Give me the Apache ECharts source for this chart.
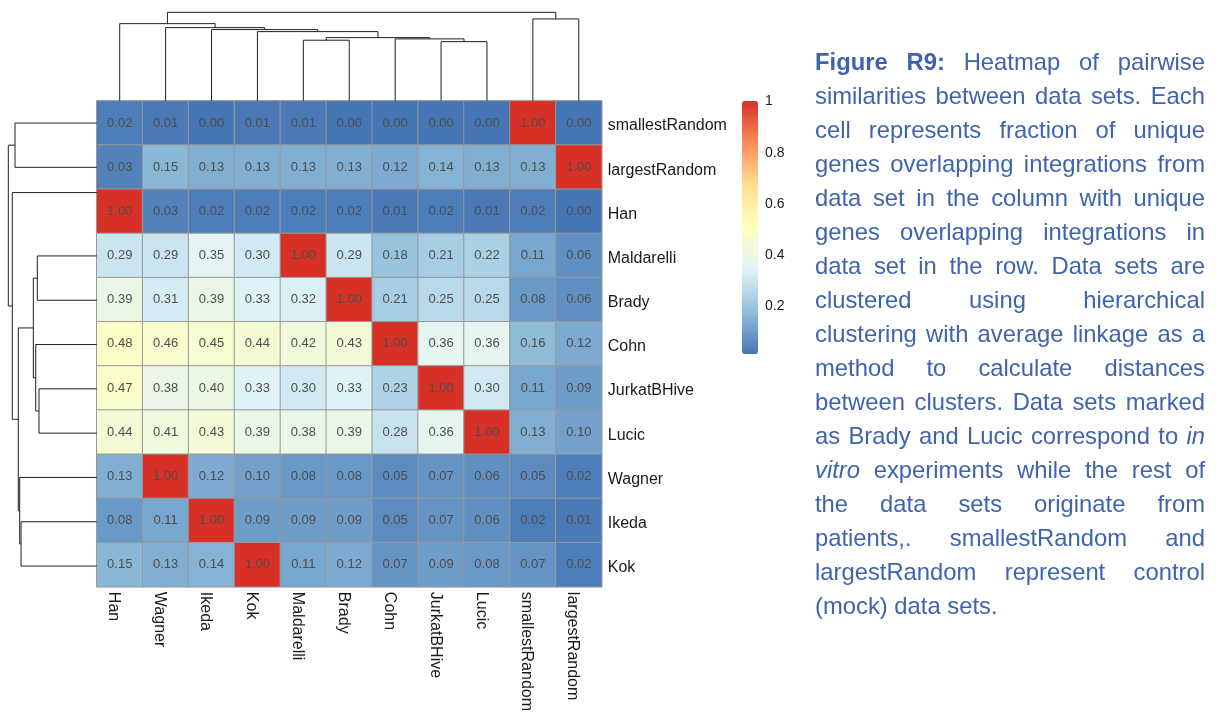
<!DOCTYPE html>
<html>
<head>
<meta charset="utf-8">
<title>Pairwise similarities between data sets</title>
<script src="https://cdn.jsdelivr.net/npm/echarts@6.0.0/dist/echarts.min.js"></script>
<style>
  html, body { margin: 0; padding: 0; background: #ffffff; }
  #chart { position: absolute; left: 0; top: 0; width: 1218px; height: 714px; }
  #caption {
    position: absolute; left: 815px; top: 45px; width: 390px;
    font-family: "Liberation Sans", Arial, sans-serif;
    font-size: 23.8px; line-height: 34px; color: #3f63ad;
  }
  #caption .ln { text-align: justify; text-align-last: justify; }
  #caption .ln.last { text-align: left; text-align-last: left; }
</style>
</head>
<body>
<div id="chart"></div>
<div id="caption"></div>
<script>
// Data sets in column order (left to right) and row order (top to bottom)
const colNames = ['Han', 'Wagner', 'Ikeda', 'Kok', 'Maldarelli', 'Brady', 'Cohn', 'JurkatBHive', 'Lucic', 'smallestRandom', 'largestRandom'];
const rowNames = ['smallestRandom', 'largestRandom', 'Han', 'Maldarelli', 'Brady', 'Cohn', 'JurkatBHive', 'Lucic', 'Wagner', 'Ikeda', 'Kok'];

// Fraction of overlapping unique genes, one array per row
const simSmallestRandom = [0.02, 0.01, 0.00, 0.01, 0.01, 0.00, 0.00, 0.00, 0.00, 1.00, 0.00];
const simLargestRandom  = [0.03, 0.15, 0.13, 0.13, 0.13, 0.13, 0.12, 0.14, 0.13, 0.13, 1.00];
const simHan            = [1.00, 0.03, 0.02, 0.02, 0.02, 0.02, 0.01, 0.02, 0.01, 0.02, 0.00];
const simMaldarelli     = [0.29, 0.29, 0.35, 0.30, 1.00, 0.29, 0.18, 0.21, 0.22, 0.11, 0.06];
const simBrady          = [0.39, 0.31, 0.39, 0.33, 0.32, 1.00, 0.21, 0.25, 0.25, 0.08, 0.06];
const simCohn           = [0.48, 0.46, 0.45, 0.44, 0.42, 0.43, 1.00, 0.36, 0.36, 0.16, 0.12];
const simJurkatBHive    = [0.47, 0.38, 0.40, 0.33, 0.30, 0.33, 0.23, 1.00, 0.30, 0.11, 0.09];
const simLucic          = [0.44, 0.41, 0.43, 0.39, 0.38, 0.39, 0.28, 0.36, 1.00, 0.13, 0.10];
const simWagner         = [0.13, 1.00, 0.12, 0.10, 0.08, 0.08, 0.05, 0.07, 0.06, 0.05, 0.02];
const simIkeda          = [0.08, 0.11, 1.00, 0.09, 0.09, 0.09, 0.05, 0.07, 0.06, 0.02, 0.01];
const simKok            = [0.15, 0.13, 0.14, 1.00, 0.11, 0.12, 0.07, 0.09, 0.08, 0.07, 0.02];
const simRows = [simSmallestRandom, simLargestRandom, simHan, simMaldarelli, simBrady, simCohn,
                 simJurkatBHive, simLucic, simWagner, simIkeda, simKok];

// Column clustering (hclust-style merge list: negative = leaf, positive = earlier merge step)
const colMerge  = [[-8, -9], [-5, -6], [-7, 1], [2, 3], [-4, 4], [-3, 5], [-2, 6], [-1, 7], [-10, -11], [8, 9]];
const colHeight = [0.669, 0.685, 0.700, 0.714, 0.782, 0.805, 0.827, 0.872, 0.925, 1.000];
const colLeafPos = [0, 1, 2, 3, 4, 5, 6, 7, 8, 9, 10];

// Row clustering
const rowMerge  = [[-7, -8], [-4, -5], [-6, 1], [2, 3], [-10, -11], [-9, 5], [4, 6], [-1, -2], [-3, 7], [8, 9]];
const rowHeight = [0.653, 0.672, 0.690, 0.717, 0.856, 0.871, 0.887, 0.924, 0.955, 1.000];
const rowLeafPos = [0, 1, 1.57, 3, 4, 5, 6, 7, 8, 9, 10];

// Colour scale ticks
const legendTicks = [0.2, 0.4, 0.6, 0.8, 1];

// Caption lines
const captionLines = [
  '<b>Figure R9:</b> Heatmap of pairwise',
  'similarities between data sets. Each',
  'cell represents fraction of unique',
  'genes overlapping integrations from',
  'data set in the column with unique',
  'genes overlapping integrations in',
  'data set in the row. Data sets are',
  'clustered using hierarchical',
  'clustering with average linkage as a',
  'method to calculate distances',
  'between clusters. Data sets marked',
  'as Brady and Lucic correspond to <i>in</i>',
  '<i>vitro</i> experiments while the rest of',
  'the data sets originate from',
  'patients,. smallestRandom and',
  'largestRandom represent control',
  '(mock) data sets.'
];

const cap = document.getElementById('caption');
captionLines.forEach((t, i) => {
  const d = document.createElement('div');
  d.className = 'ln' + (i === captionLines.length - 1 ? ' last' : '');
  d.innerHTML = t;
  cap.appendChild(d);
});

// RdYlBu (reversed) palette
const palette = ['#4575B4', '#91BFDB', '#E0F3F8', '#FFFFBF', '#FEE090', '#FC8D59', '#D73027'];

const heatData = [];
simRows.forEach((row, r) => row.forEach((v, c) => heatData.push([c, r, v])));

// Turn a merge list into link segments [posA, hA, posB, hB, h]
function buildLinks(merge, height, leafPos) {
  const pos = [], hh = [], out = [];
  merge.forEach((m, k) => {
    const get = c => c < 0 ? [leafPos[-c - 1], 0] : [pos[c - 1], hh[c - 1]];
    const a = get(m[0]), b = get(m[1]);
    pos[k] = (a[0] + b[0]) / 2;
    hh[k] = height[k];
    out.push([a[0], a[1], b[0], b[1], height[k]]);
  });
  return out;
}
const colLinks = buildLinks(colMerge, colHeight, colLeafPos);
const rowLinks = buildLinks(rowMerge, rowHeight, rowLeafPos);

const treeStyle = { stroke: '#1f1f1f', lineWidth: 1, fill: null };

const GL = 96.75, GT = 100.9, GW = 505, GH = 487.3;

const chart = echarts.init(document.getElementById('chart'), null, { renderer: 'canvas' });
chart.setOption({
  animation: false,
  textStyle: { fontFamily: '"Liberation Sans", Arial, sans-serif' },
  grid: [
    { left: GL, top: GT, width: GW, height: GH },          // heatmap
    { left: GL, top: 12.3, width: GW, height: GT - 12.3 },  // column tree
    { left: 8.3, top: GT, width: GL - 8.3, height: GH },    // row tree
    { left: 742, top: 101.6, width: 16, height: 255.4 }     // colour scale labels
  ],
  xAxis: [
    {
      type: 'category', data: colNames, gridIndex: 0, position: 'bottom',
      axisLine: { show: false }, axisTick: { show: false }, splitLine: { show: false },
      axisLabel: {
        rotate: -90, interval: 0, fontSize: 16, color: '#1a1a1a', margin: 5,
        align: 'left', verticalAlign: 'top', lineHeight: 12
      }
    },
    { type: 'value', gridIndex: 1, min: -0.5, max: 10.5, show: false },
    { type: 'value', gridIndex: 2, min: 0, max: 1, inverse: true, show: false },
    { type: 'value', gridIndex: 3, min: 0, max: 1, show: false }
  ],
  yAxis: [
    {
      type: 'category', data: rowNames, gridIndex: 0, inverse: true, position: 'right',
      axisLine: { show: false }, axisTick: { show: false }, splitLine: { show: false },
      axisLabel: {
        interval: 0, fontSize: 16, color: '#1a1a1a', margin: 6,
        verticalAlign: 'top', lineHeight: 6
      }
    },
    { type: 'value', gridIndex: 1, min: 0, max: 1, show: false },
    { type: 'value', gridIndex: 2, min: -0.5, max: 10.5, inverse: true, show: false },
    {
      type: 'value', gridIndex: 3, min: 0, max: 1, interval: 0.2, position: 'right',
      axisLine: { show: false }, axisTick: { show: false }, splitLine: { show: false },
      axisLabel: {
        fontSize: 14, color: '#1a1a1a', margin: 7,
        formatter: v => legendTicks.some(t => Math.abs(t - v) < 1e-9) ? String(+v.toFixed(1)) : ''
      }
    }
  ],
  visualMap: {
    type: 'continuous', seriesIndex: 0, min: 0, max: 1,
    left: 742, top: 101, itemWidth: 16, itemHeight: 253, padding: 0,
    calculable: false, hoverLink: false, text: null, showLabel: false,
    inRange: { color: palette }
  },
  series: [
    {
      type: 'heatmap', xAxisIndex: 0, yAxisIndex: 0, data: heatData,
      itemStyle: { borderColor: '#999999', borderWidth: 1 },
      label: {
        show: true, fontSize: 13, color: '#4d4d4d',
        formatter: p => p.value[2].toFixed(2)
      },
      emphasis: { disabled: true }
    },
    {
      type: 'custom', xAxisIndex: 1, yAxisIndex: 1, data: colLinks,
      renderItem: (params, api) => {
        const pts = [
          api.coord([api.value(0), api.value(1)]),
          api.coord([api.value(0), api.value(4)]),
          api.coord([api.value(2), api.value(4)]),
          api.coord([api.value(2), api.value(3)])
        ];
        return { type: 'polyline', shape: { points: pts }, style: treeStyle };
      }
    },
    {
      type: 'custom', xAxisIndex: 2, yAxisIndex: 2, data: rowLinks,
      renderItem: (params, api) => {
        const pts = [
          api.coord([api.value(1), api.value(0)]),
          api.coord([api.value(4), api.value(0)]),
          api.coord([api.value(4), api.value(2)]),
          api.coord([api.value(3), api.value(2)])
        ];
        return { type: 'polyline', shape: { points: pts }, style: treeStyle };
      }
    },
    {
      type: 'scatter', xAxisIndex: 3, yAxisIndex: 3, data: [], silent: true
    }
  ]
});
</script>
</body>
</html>
